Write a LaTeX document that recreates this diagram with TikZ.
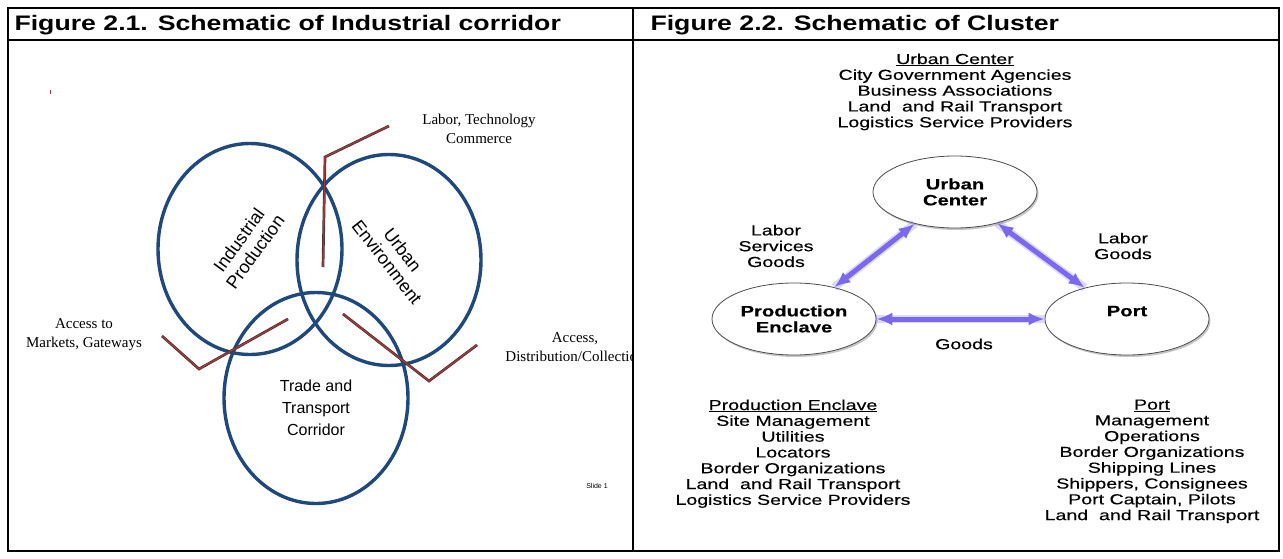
\documentclass[tikz,border=0pt]{standalone}
\usepackage{fontspec}
\setmainfont{Liberation Sans}
\newfontfamily\corrserif{Liberation Serif}
\newfontfamily\widesans{Liberation Sans}[FakeStretch=1.35, FakeBold=0.4]
\newfontfamily\headsans{Liberation Sans}[FakeStretch=1.27]
\usetikzlibrary{shapes.geometric, arrows.meta, shadows}

\definecolor{ringblue}{RGB}{31,73,125}
\definecolor{linkred}{RGB}{165,55,55}
\definecolor{flowblue}{RGB}{122,104,238}

\tikzset{
	ring/.style={ellipse, draw=ringblue, line width=3.4pt, inner sep=0pt,
		minimum width=184pt, minimum height=211pt},
	ringtext/.style={align=center, font=\fontsize{18}{20}\selectfont},
	link/.style={draw=black!80, double=linkred, double distance=1.5pt,
		line width=0.6pt, line join=miter},
	linktext/.style={align=center, font=\corrserif\fontsize{15}{19}\selectfont},
	place/.style={ellipse, draw=black!70, fill=white, line width=0.8pt,
		inner sep=0pt, minimum width=164pt, minimum height=72pt, align=center,
		font=\widesans\bfseries\fontsize{15}{16}\selectfont,
		drop shadow={opacity=0.45, shadow xshift=1.5pt, shadow yshift=-2pt}},
	flow/.style={draw=flowblue, line width=5pt,
		{Latex[length=16pt,width=13pt]}-{Latex[length=16pt,width=13pt]},
		preaction={draw=flowblue, opacity=0.25, line width=8.5pt, -}},
	flowtext/.style={align=center, font=\widesans\fontsize{14.5}{15.8}\selectfont},
	actors/.style={align=center, font=\widesans\fontsize{14.5}{15.8}\selectfont,
		anchor=north},
	title/.style={anchor=west, font=\headsans\bfseries\fontsize{21}{24}\selectfont}
}

\begin{document}
\begin{tikzpicture}[x=1pt, y=-1pt]
	\useasboundingbox (0,0) rectangle (1283,559);

	%table frame
	\draw[line width=1.8pt] (8,8) rectangle (1279,551);
	\draw[line width=1.8pt] (8,40) -- (1279,40);
	\draw[line width=1.8pt] (633,8) -- (633,551);

	%headings
	\node[title] (head1) at (11,25) {Figure 2.1. Schematic of Industrial corridor};
	\node[title] (head2) at (647,25) {Figure 2.2. Schematic of Cluster};

	\begin{scope}
	\clip (9,41) rectangle (632,550);

	%left panel - rings
	\node[ring] (indus) at (250,249) {};
	\node[ring] (urban) at (389,260) {};
	\node[ring] (trade) at (316,398) {};

	\node[ringtext, rotate=54]  (indtxt) at (247,246) {Industrial\\Production};
	\node[ringtext, rotate=-52] (urbtxt) at (395,256) {Urban\\Environment};
	\node[ringtext, font=\fontsize{16}{22}\selectfont] (trdtxt) at (316,408)
		{Trade and\\Transport\\Corridor};

	%left panel - red links
	\coordinate (t1) at (323,267);
	\coordinate (t2) at (325,157);
	\coordinate (t3) at (389,126);
	\draw[link] (t1) -- (t2) -- (t3);		%top

	\coordinate (l1) at (162,336);
	\coordinate (l2) at (199,369);
	\coordinate (l3) at (288,319);
	\draw[link] (l1) -- (l2) -- (l3);		%left

	\coordinate (r1) at (343,314);
	\coordinate (r2) at (429,381);
	\coordinate (r3) at (477,345);
	\draw[link] (r1) -- (r2) -- (r3);		%right

	\draw[linkred, line width=0.8pt] (50,90) -- (50,94);

	%left panel - link labels
	\node[linktext] (labtec) at (479,129) {Labor, Technology\\Commerce};
	\node[linktext] (market) at (84,335)  {Access to\\Markets, Gateways};
	\node[linktext] (distri) at (575,347) {Access,\\Distribution/Collection};

	\node[font=\fontsize{7}{8}\selectfont] (slide) at (597,486) {Slide 1};
	\end{scope}

	%right panel - places
	\node[place] (uc)   at (955,192) {Urban\\Center};
	\node[place] (pe)   at (794,319) {Production\\Enclave};
	\node[place] (port) at (1127,319) {Port\\\mbox{}};

	%right panel - flows
	\draw[flow] (uc) -- (pe);
	\draw[flow] (uc) -- (port);
	\draw[flow] (pe) -- (port);

	\node[flowtext] (lsg) at (776,246) {Labor\\Services\\Goods};
	\node[flowtext] (lg)  at (1123,246) {Labor\\Goods};
	\node[flowtext] (g)   at (964,344) {Goods};

	%right panel - actor lists
	\node[actors] (ucact) at (955,50)
		{\underline{Urban Center}\\City Government Agencies\\Business Associations\\
		 Land\ \ and Rail Transport\\Logistics Service Providers};
	\node[actors] (peact) at (793,396)
		{\underline{Production Enclave}\\Site Management\\Utilities\\Locators\\
		 Border Organizations\\Land\ \ and Rail Transport\\Logistics Service Providers};
	\node[actors] (ptact) at (1152,396)
		{\underline{Port}\\Management\\Operations\\Border Organizations\\Shipping Lines\\
		 Shippers, Consignees\\Port Captain, Pilots\\Land\ \ and Rail Transport};
\end{tikzpicture}
\end{document}
